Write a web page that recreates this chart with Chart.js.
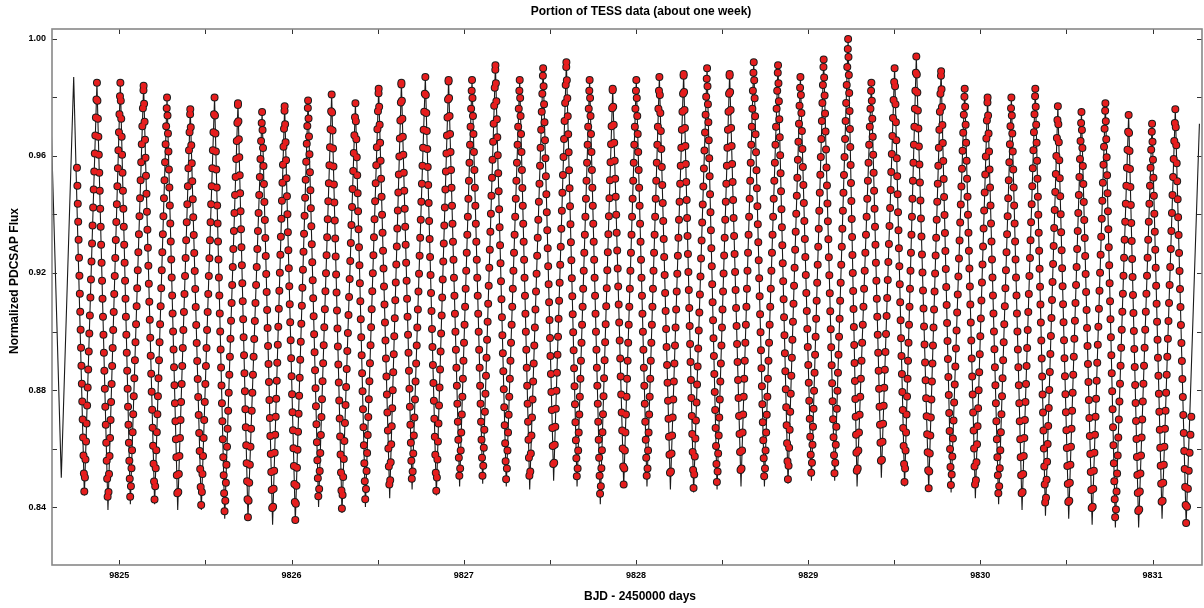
<!DOCTYPE html>
<html>
<head>
<meta charset="utf-8">
<title>Portion of TESS data (about one week)</title>
<script src="https://cdn.jsdelivr.net/npm/chart.js@4.4.1/dist/chart.umd.min.js"></script>
<style>
  html, body { margin: 0; padding: 0; background: #fff; }
  #wrap { width: 1204px; height: 608px; }
</style>
</head>
<body>
<div id="wrap"><canvas id="lightCurve" width="1204" height="608"></canvas></div>
<script>
// ── Data (BJD - 2450000, normalized PDCSAP flux) ─────────────────────────────
// pulsation maxima, one per cycle
const peakTimes = [
  9824.735, 9824.870, 9825.006, 9825.141, 9825.277, 9825.412, 9825.553, 9825.689,
  9825.829, 9825.960, 9826.096, 9826.233, 9826.371, 9826.506, 9826.638, 9826.777,
  9826.912, 9827.048, 9827.184, 9827.325, 9827.461, 9827.596, 9827.731, 9827.865,
  9828.002, 9828.136, 9828.277, 9828.413, 9828.544, 9828.684, 9828.825, 9828.955,
  9829.090, 9829.232, 9829.367, 9829.502, 9829.628, 9829.772, 9829.909, 9830.042,
  9830.180, 9830.319, 9830.450, 9830.587, 9830.726, 9830.861, 9830.997, 9831.132,
  9831.272
];
const peakFlux = [
  0.987, 0.985, 0.985, 0.984, 0.980, 0.976, 0.980, 0.978,
  0.975, 0.977, 0.979, 0.981, 0.978, 0.983, 0.985, 0.987,
  0.986, 0.986, 0.991, 0.986, 0.990, 0.992, 0.986, 0.983,
  0.986, 0.987, 0.988, 0.990, 0.988, 0.992, 0.991, 0.987,
  0.993, 1.000, 0.985, 0.990, 0.994, 0.989, 0.983, 0.980,
  0.980, 0.983, 0.977, 0.975, 0.978, 0.974, 0.971, 0.976,
  0.971
];
// pulsation minima, each one just before the matching maximum
const troughTimes = [
  9824.663, 9824.797, 9824.934, 9825.064, 9825.205, 9825.339, 9825.476, 9825.612,
  9825.747, 9825.890, 9826.022, 9826.157, 9826.293, 9826.429, 9826.570, 9826.700,
  9826.841, 9826.976, 9827.110, 9827.247, 9827.383, 9827.522, 9827.658, 9827.793,
  9827.929, 9828.064, 9828.200, 9828.335, 9828.471, 9828.610, 9828.746, 9828.883,
  9829.019, 9829.154, 9829.284, 9829.425, 9829.560, 9829.700, 9829.830, 9829.971,
  9830.106, 9830.242, 9830.378, 9830.513, 9830.649, 9830.784, 9830.919, 9831.055,
  9831.195
];
const troughFlux = [
  0.850, 0.844, 0.839, 0.841, 0.841, 0.839, 0.839, 0.836,
  0.836, 0.834, 0.835, 0.840, 0.838, 0.840, 0.843, 0.846,
  0.844, 0.847, 0.848, 0.847, 0.846, 0.849, 0.847, 0.841,
  0.847, 0.847, 0.846, 0.845, 0.846, 0.847, 0.847, 0.848,
  0.849, 0.849, 0.847, 0.850, 0.847, 0.846, 0.845, 0.843,
  0.841, 0.839, 0.837, 0.836, 0.834, 0.833, 0.833, 0.836,
  0.834
];
// where the model curve enters the frame, first and last observed points
const modelStart = [9824.600, 0.979];
const obsFirst = [9824.754, 0.956];
const obsLast = [9831.229, 0.876];

// axis limits and tick labels
const xRange = [9824.609, 9831.287];
const yRange = [0.8202, 1.0034];
const xLabels = [9825, 9826, 9827, 9828, 9829, 9830, 9831];
const yLabels = ['0.84', '0.88', '0.92', '0.96', '1.00'];

const TITLE = 'Portion of TESS data (about one week)';
const X_TITLE = 'BJD - 2450000 days';
const Y_TITLE = 'Normalized PDCSAP Flux';

// ── Build point lists ─────────────────────────────────────────────────────────
const modelPts = [{ x: modelStart[0], y: modelStart[1] }];
troughTimes.forEach((t, i) => {
  modelPts.push({ x: t, y: troughFlux[i] });
  modelPts.push({ x: peakTimes[i], y: peakFlux[i] });
});

// observations cover cycles 2..48 plus the last minimum
const obsPts = [{ x: obsFirst[0], y: obsFirst[1] }];
for (let i = 1; i < troughTimes.length; i++) {
  obsPts.push({ x: troughTimes[i], y: troughFlux[i] });
  if (i < troughTimes.length - 1) obsPts.push({ x: peakTimes[i], y: peakFlux[i] });
}
obsPts.push({ x: obsLast[0], y: obsLast[1] });

// ── Chart ─────────────────────────────────────────────────────────────────────
Chart.defaults.font.family = "'Liberation Sans', Arial, Helvetica, sans-serif";
const FONT_TICK = { size: 9, weight: 'bold' };

// inward ticks on all four sides, grey frame, titles
const frameAndTitles = {
  id: 'frameAndTitles',
  afterDatasetsDraw(chart) {
    const { ctx, chartArea: a, scales: { x, y } } = chart;
    ctx.save();
    ctx.strokeStyle = '#333';
    ctx.lineWidth = 1;
    ctx.beginPath();
    x.ticks.forEach(t => {
      const px = Math.round(x.getPixelForValue(t.value)) + 0.5;
      ctx.moveTo(px, a.bottom); ctx.lineTo(px, a.bottom - 5);
      ctx.moveTo(px, a.top); ctx.lineTo(px, a.top + 5);
    });
    y.ticks.forEach(t => {
      const py = Math.round(y.getPixelForValue(t.value)) + 0.5;
      ctx.moveTo(a.left, py); ctx.lineTo(a.left + 5, py);
      ctx.moveTo(a.right, py); ctx.lineTo(a.right - 5, py);
    });
    ctx.stroke();
    ctx.strokeStyle = '#888';
    ctx.lineWidth = 1.6;
    ctx.strokeRect(a.left, a.top, a.right - a.left, a.bottom - a.top);
    ctx.restore();
  },
  afterDraw(chart) {
    const { ctx } = chart;
    ctx.save();
    ctx.fillStyle = '#000';
    ctx.textAlign = 'center';
    ctx.textBaseline = 'middle';
    ctx.font = "bold 12px 'Liberation Sans', Arial, sans-serif";
    ctx.fillText(TITLE, 641, 12);
    ctx.fillText(X_TITLE, 640, 597);
    ctx.translate(15, 281);
    ctx.rotate(-Math.PI / 2);
    ctx.fillText(Y_TITLE, 0, 0);
    ctx.restore();
  }
};

// markers: round dots along the observed branches (straight runs between
// extrema), restarted at every extremum so fill and rim stay lined up
const dotStyle = {
  pointRadius: 0,
  borderDash: [0, 18],
  borderCapStyle: 'round',
  tension: 0,
  fill: false,
  segment: { borderDashOffset: c => (c.p0DataIndex % 2) * 0.001 },
};

new Chart(document.getElementById('lightCurve'), {
  type: 'line',
  data: {
    datasets: [
      // observed TESS points (red markers, black rim)
      { label: 'TESS', data: obsPts, borderColor: '#e61e1e', borderWidth: 6.0, ...dotStyle },
      { label: 'TESS rim', data: obsPts, borderColor: '#1c1c1c', borderWidth: 8.0, ...dotStyle },
      // model fit
      {
        label: 'Model', data: modelPts, borderColor: '#1a1a1a', borderWidth: 1.1,
        pointRadius: 0, tension: 0, fill: false,
      },
    ]
  },
  options: {
    responsive: false,
    animation: false,
    events: [],
    layout: { padding: { top: 29, right: 2, left: 0, bottom: 0 } },
    plugins: {
      legend: { display: false },
      title: { display: false },
      tooltip: { enabled: false },
    },
    scales: {
      x: {
        type: 'linear',
        min: xRange[0],
        max: xRange[1],
        grid: { display: false, drawTicks: false },
        border: { display: false },
        ticks: {
          stepSize: 0.5,
          includeBounds: false,
          autoSkip: false,
          maxRotation: 0,
          padding: 5,
          color: '#000',
          font: FONT_TICK,
          callback: v => xLabels.includes(v) ? String(v) : '',
        },
        afterFit: s => { s.height = 43; },
      },
      y: {
        type: 'linear',
        min: yRange[0],
        max: yRange[1],
        grid: { display: false, drawTicks: false },
        border: { display: false },
        ticks: {
          stepSize: 0.02,
          includeBounds: false,
          autoSkip: false,
          padding: 6,
          color: '#000',
          font: FONT_TICK,
          callback: v => yLabels.includes(v.toFixed(2)) ? v.toFixed(2) : '',
        },
        afterFit: s => { s.width = 52; },
      },
    },
  },
  plugins: [frameAndTitles],
});
</script>
</body>
</html>
